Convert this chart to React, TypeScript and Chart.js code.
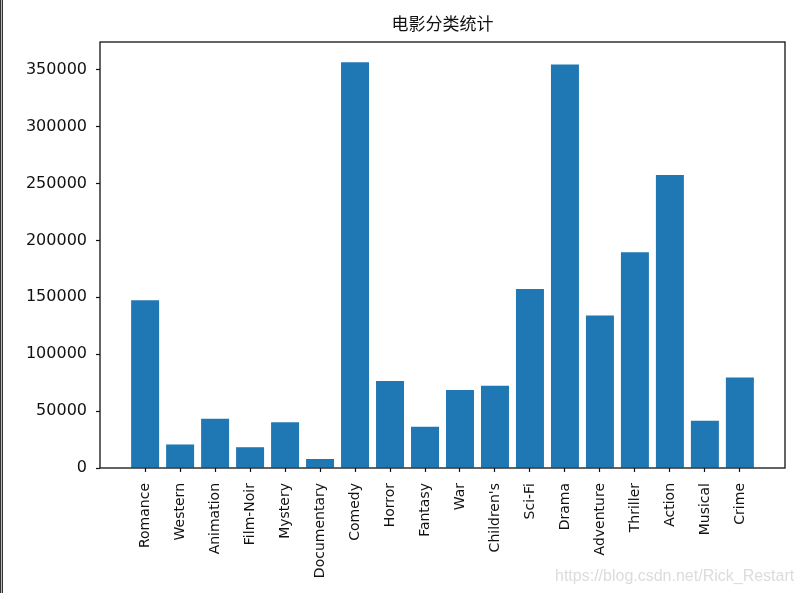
import React, { useEffect, useRef } from "react";
import { Chart, registerables } from "chart.js";

Chart.register(...registerables);

const titleText = "电影分类统计";
const categories = [
  "Romance", "Western", "Animation", "Film-Noir", "Mystery", "Documentary",
  "Comedy", "Horror", "Fantasy", "War", "Children's", "Sci-Fi", "Drama",
  "Adventure", "Thriller", "Action", "Musical", "Crime",
];
const counts = [
  147523, 20683, 43293, 18261, 40178, 7910,
  356580, 76386, 36301, 68527, 72186, 157294, 354529,
  133953, 189680, 257457, 41533, 79541,
];
const yTicks = [0, 50000, 100000, 150000, 200000, 250000, 300000, 350000];
const watermark = "https://blog.csdn.net/Rick_Restart";

const W = 803;
const H = 593;

export default function App() {
  const ref = useRef<HTMLCanvasElement | null>(null);

  useEffect(() => {
    document.body.style.margin = "0";
    const canvas = ref.current;
    if (!canvas) return;
    const maxVal = Math.max(...counts);
    const n = categories.length;
    const span = n - 1 + 0.8;
    const xMin = -0.4 - 0.05 * span;
    const xMax = n - 1 + 0.4 + 0.05 * span;

    const frame = {
      id: "frame",
      afterDatasetsDraw(chart: any) {
        const { ctx, chartArea } = chart;
        ctx.save();
        ctx.strokeStyle = "#111";
        ctx.lineWidth = 1.3;
        ctx.strokeRect(chartArea.left, chartArea.top, chartArea.right - chartArea.left, chartArea.bottom - chartArea.top);
        ctx.restore();
      },
    };

    const chart = new Chart(canvas, {
      type: "bar",
      data: {
        datasets: [
          {
            data: counts.map((v, i) => ({ x: i, y: v })),
            backgroundColor: "#1f77b4",
            borderWidth: 0,
            barPercentage: 0.8,
            categoryPercentage: 1.0,
          },
        ],
      },
      options: {
        animation: false,
        responsive: false,
        devicePixelRatio: 1,
        layout: { padding: { left: 0, right: 18, top: 0, bottom: 0 } },
        plugins: {
          legend: { display: false },
          tooltip: { enabled: false },
          title: {
            display: true,
            text: titleText,
            fullSize: false,
            color: "#111",
            font: { family: "'Noto Sans CJK SC', 'DejaVu Sans', sans-serif", size: 17, weight: "normal", lineHeight: 1.2 },
            padding: { top: 13.4, bottom: 8.2 },
          },
        },
        scales: {
          x: {
            type: "linear",
            min: xMin,
            max: xMax,
            offset: false,
            afterBuildTicks: (scale: any) => {
              scale.ticks = categories.map((_, i) => ({ value: i }));
            },
            afterFit: (scale: any) => {
              scale.height = 125;
            },
            grid: {
              display: true,
              drawOnChartArea: false,
              drawTicks: true,
              tickLength: 4,
              tickColor: "#111",
              tickWidth: 1.2,
              offset: false,
            },
            border: { display: false },
            ticks: {
              autoSkip: false,
              maxRotation: 90,
              minRotation: 90,
              padding: 11,
              color: "#111",
              font: { family: "'DejaVu Sans', sans-serif", size: 14 },
              callback: (v: any) => categories[Math.round(Number(v))] ?? "",
            },
          },
          y: {
            type: "linear",
            min: 0,
            max: maxVal * 1.05,
            afterBuildTicks: (scale: any) => {
              scale.ticks = yTicks.map((v) => ({ value: v }));
            },
            afterFit: (scale: any) => {
              scale.width = 100;
            },
            grid: {
              display: true,
              drawOnChartArea: false,
              drawTicks: true,
              tickLength: 4,
              tickColor: "#111",
              tickWidth: 1.2,
            },
            border: { display: false },
            ticks: {
              autoSkip: false,
              padding: 9,
              color: "#111",
              font: { family: "'DejaVu Sans', sans-serif", size: 16 },
              callback: (v: any) => String(v),
            },
          },
        },
      },
      plugins: [frame],
    } as any);

    return () => chart.destroy();
  }, []);

  return (
    <div style={{ position: "relative", width: W, height: H, background: "#fff", overflow: "hidden" }}>
      <canvas ref={ref} width={W} height={H} style={{ position: "absolute", left: 0, top: 0 }} />
      <div style={{ position: "absolute", left: 0, top: 0, width: 3, height: H, boxSizing: "border-box", borderLeft: "1px solid #333", borderRight: "1px solid #333", background: "#bbb" }} />
      <div
        style={{
          position: "absolute",
          left: 555,
          top: 566,
          fontFamily: "'Liberation Sans', Arial, sans-serif",
          fontSize: 16,
          lineHeight: "20px",
          color: "#dcdcdc",
          whiteSpace: "nowrap",
        }}
      >
        {watermark}
      </div>
    </div>
  );
}
